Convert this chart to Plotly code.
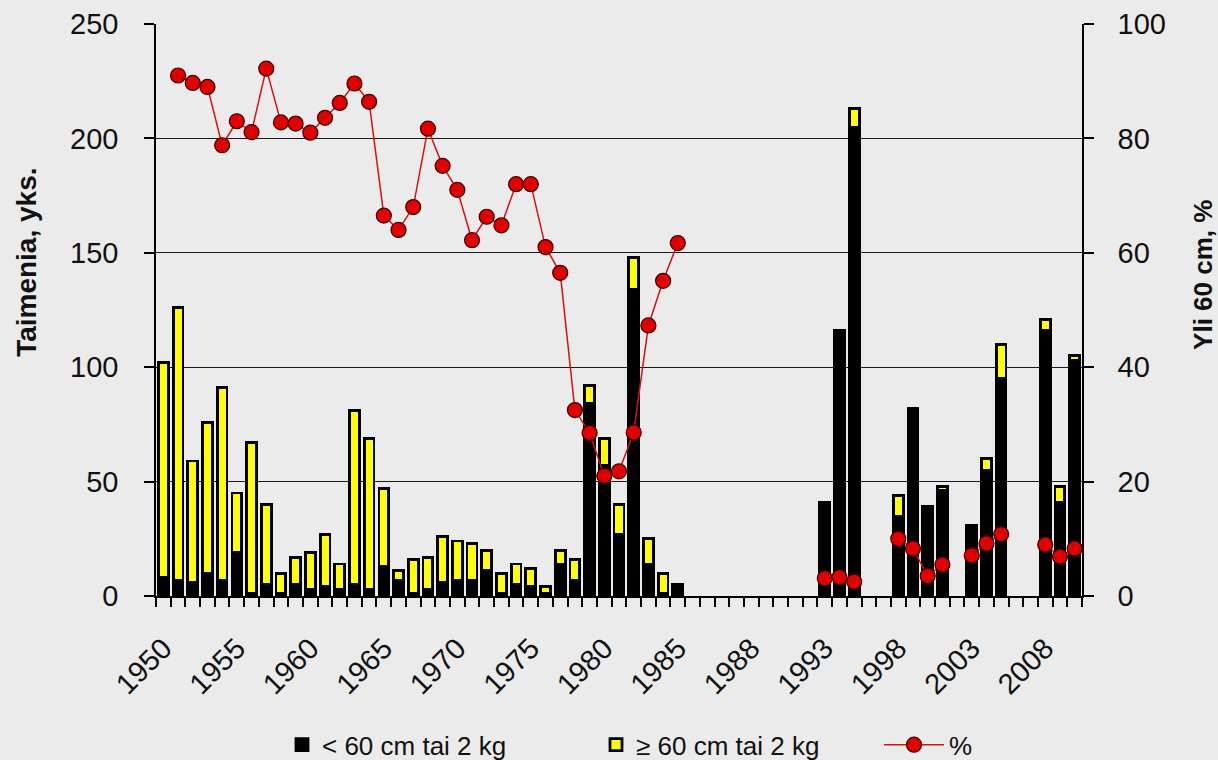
import plotly.graph_objects as go

# slot labels (63 category slots; 4 unlabeled slots between 1985 and 1988)
years = [str(y) for y in range(1950, 1986)] + ["", "", "", ""] + [str(y) for y in range(1988, 2011)]

# < 60 cm tai 2 kg (black)
small = [8, 7, 6, 10, 7, 19, 1, 5, 1, 5,
         3, 4, 3, 5, 3, 13, 7, 1, 3, 6,
         7, 7, 11, 1, 5, 4, 1, 14, 7, 84,
         57, 27, 134, 14, 1, 5,
         None, None, None, None, None, None, None, None, None,
         41, 116, 205, None, None,
         35, 82, 39, 46, None,
         31, 55, 95, None, None,
         116, 41, 103]

# >= 60 cm tai 2 kg (yellow)
large = [94, 119, 53, 66, 84, 26, 66, 35, 9, 12,
         16, 23, 11, 76, 66, 34, 4, 15, 14, 20,
         17, 16, 9, 9, 9, 8, 3, 6, 9, 8,
         12, 13, 14, 11, 9, None,
         None, None, None, None, None, None, None, None, None,
         None, None, 8, None, None,
         9, None, None, 2, None,
         None, 5, 15, None, None,
         5, 7, 2]

# % over 60 cm
pct = [None, 91.0, 89.7, 89.0, 78.8, 83.0, 81.1, 92.2, 82.8, 82.6,
       81.0, 83.6, 86.2, 89.6, 86.4, 66.5, 64.0, 68.0, 81.7, 75.2,
       71.0, 62.2, 66.3, 64.8, 72.0, 72.0, 61.0, 56.5, 32.5, 28.5,
       21.0, 21.8, 28.6, 47.3, 55.1, 61.7,
       None, None, None, None, None, None, None, None, None,
       3.1, 3.3, 2.5, None, None,
       10.0, 8.3, 3.5, 5.5, None,
       7.1, 9.2, 10.8, None, None,
       9.0, 6.9, 8.3]

left_title = "Taimenia, yks."
right_title = "Yli 60 cm, %"

xpos = list(range(len(years)))
tick_idx = [i for i in xpos if i % 5 == 0]

FAM = "Liberation Sans, Arial"
TICKFONT = dict(family=FAM, size=29, color="#111111")
LEGFONT = dict(family=FAM, size=26, color="#111111")

fig = go.Figure()
fig.add_trace(go.Bar(x=xpos, y=small, name="< 60 cm tai 2 kg", legend="legend",
                     marker=dict(color="#000000", line=dict(color="#000000", width=2.8))))
fig.add_trace(go.Bar(x=xpos, y=large, name="\u2265 60 cm tai 2 kg", legend="legend2",
                     marker=dict(color="#ffff00", line=dict(color="#000000", width=2.8))))
fig.add_trace(go.Scatter(x=xpos, y=pct, name="%", yaxis="y2", mode="lines+markers",
                         legend="legend3", connectgaps=False,
                         line=dict(color="#d81010", width=1.5),
                         marker=dict(color="#e00000", size=15, line=dict(color="#3a0000", width=1.2))))

def leg(xpx, itemwidth=30):
    return dict(orientation="h", xref="container", yref="container",
                x=xpx / 1218, xanchor="left", y=0.02, yanchor="middle",
                font=LEGFONT, bgcolor="rgba(0,0,0,0)", itemwidth=itemwidth)

fig.update_layout(
    width=1218, height=760,
    barmode="stack", bargap=0.33,
    paper_bgcolor="#ebebeb", plot_bgcolor="#ebebeb",
    margin=dict(l=156, r=136, t=24, b=164, autoexpand=False),
    showlegend=True,
    legend=leg(282),
    legend2=leg(596),
    legend3=leg(879, itemwidth=60),
    xaxis=dict(range=[-0.5, len(years) - 0.5], tickmode="array",
               tickvals=tick_idx, ticktext=[years[i] for i in tick_idx],
               tickangle=-45, ticks="", tickfont=TICKFONT, ticklabelstandoff=22,
               showgrid=False, zeroline=False,
               showline=True, linecolor="#000000", linewidth=1.5,
               minor=dict(ticks="outside", tick0=-0.5, dtick=1, ticklen=9,
                          tickcolor="#000000", tickwidth=1.5, showgrid=False)),
    yaxis=dict(range=[0, 250], dtick=50, ticks="outside", ticklen=10, tickwidth=1.5,
               tickcolor="#000000", tickfont=TICKFONT, ticklabelstandoff=20,
               showgrid=True, gridcolor="#1a1a1a", gridwidth=1.2,
               zeroline=False, showline=True, linecolor="#000000", linewidth=1.5),
    yaxis2=dict(range=[0, 100], dtick=20, overlaying="y", side="right",
                ticks="outside", ticklen=10, tickwidth=1.5, tickcolor="#000000",
                tickfont=TICKFONT, ticklabelstandoff=18,
                showgrid=False, zeroline=False, showline=True,
                linecolor="#000000", linewidth=1.5),
    annotations=[
        dict(text=left_title, xref="paper", yref="paper", x=-0.1394, y=0.584,
             xanchor="center", yanchor="middle", textangle=-90, showarrow=False,
             font=dict(family=FAM, size=28, color="#111111", weight="bold")),
        dict(text=right_title, xref="paper", yref="paper", x=1.130, y=0.562,
             xanchor="center", yanchor="middle", textangle=-90, showarrow=False,
             font=dict(family=FAM, size=26, color="#111111", weight="bold")),
    ],
)

fig.write_html("out.html", config={"displayModeBar": False},
               post_script="document.body.style.margin='0';document.body.style.background='#ebebeb';")
